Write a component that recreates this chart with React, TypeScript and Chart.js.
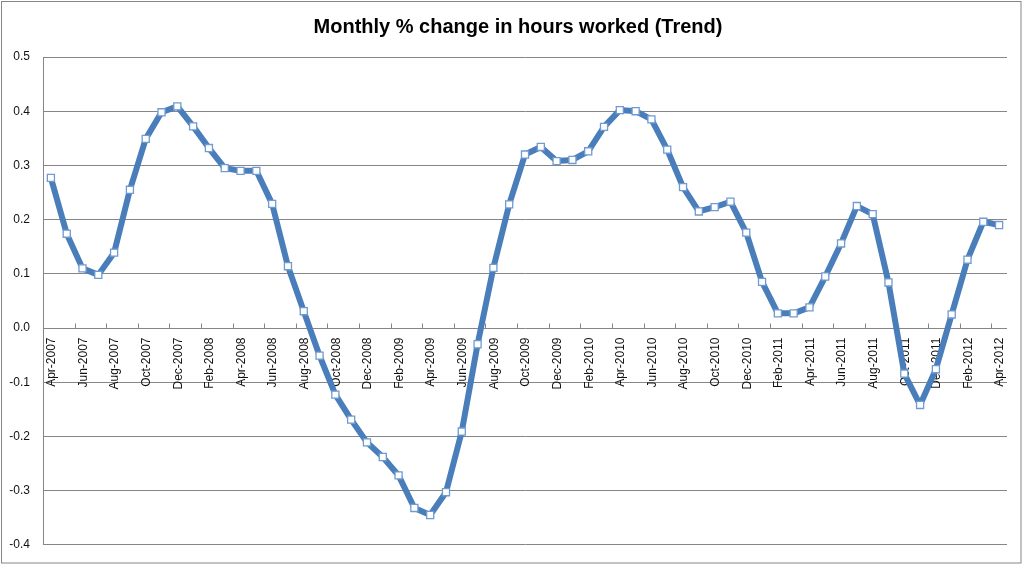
import React, { useEffect, useRef } from "react";
import { Chart, registerables } from "chart.js";

Chart.register(...registerables);

const TITLE = "Monthly % change in hours worked (Trend)";

const MONTHS = [
  "Apr-2007", "May-2007", "Jun-2007", "Jul-2007", "Aug-2007", "Sep-2007", "Oct-2007", "Nov-2007", "Dec-2007",
  "Jan-2008", "Feb-2008", "Mar-2008", "Apr-2008", "May-2008", "Jun-2008", "Jul-2008", "Aug-2008", "Sep-2008", "Oct-2008", "Nov-2008", "Dec-2008",
  "Jan-2009", "Feb-2009", "Mar-2009", "Apr-2009", "May-2009", "Jun-2009", "Jul-2009", "Aug-2009", "Sep-2009", "Oct-2009", "Nov-2009", "Dec-2009",
  "Jan-2010", "Feb-2010", "Mar-2010", "Apr-2010", "May-2010", "Jun-2010", "Jul-2010", "Aug-2010", "Sep-2010", "Oct-2010", "Nov-2010", "Dec-2010",
  "Jan-2011", "Feb-2011", "Mar-2011", "Apr-2011", "May-2011", "Jun-2011", "Jul-2011", "Aug-2011", "Sep-2011", "Oct-2011", "Nov-2011", "Dec-2011",
  "Jan-2012", "Feb-2012", "Mar-2012", "Apr-2012",
];

const HOURS_CHANGE = [
  0.277, 0.174, 0.110, 0.098, 0.139, 0.255, 0.349, 0.398, 0.409,
  0.372, 0.332, 0.295, 0.290, 0.290, 0.229, 0.114, 0.031, -0.051, -0.123, -0.169, -0.211,
  -0.238, -0.272, -0.332, -0.345, -0.303, -0.191, -0.030, 0.111, 0.228, 0.320, 0.334, 0.308,
  0.310, 0.326, 0.371, 0.402, 0.400, 0.385, 0.329, 0.260, 0.215, 0.223, 0.233, 0.176,
  0.085, 0.027, 0.027, 0.038, 0.095, 0.156, 0.225, 0.210, 0.084, -0.084, -0.142, -0.076,
  0.025, 0.126, 0.196, 0.190,
];

const Y_MIN = -0.4;
const Y_MAX = 0.5;
const Y_STEP = 0.1;
const LABEL_EVERY = 2;

const GRID = "#868686";
const LINE = "#4A7EBB";
const FONT = '"Liberation Sans", Arial, sans-serif';

const excelDecor = {
  id: "excelDecor",
  beforeDraw(chart: any) {
    const ctx = chart.ctx;
    ctx.save();
    ctx.fillStyle = "#ffffff";
    ctx.fillRect(0, 0, chart.width, chart.height);
    ctx.restore();
  },
  beforeDatasetsDraw(chart: any) {
    const ctx = chart.ctx;
    const xs = chart.scales.x;
    const ys = chart.scales.y;
    const y0 = Math.round(ys.getPixelForValue(0)) + 0.5;
    const half = (xs.getPixelForValue(1) - xs.getPixelForValue(0)) / 2;
    ctx.save();
    ctx.strokeStyle = GRID;
    ctx.lineWidth = 1;
    ctx.beginPath();
    for (let i = 0; i < MONTHS.length; i += LABEL_EVERY) {
      const px = Math.round(xs.getPixelForValue(i) - half) + 0.5;
      ctx.moveTo(px, y0 - 5);
      ctx.lineTo(px, y0);
    }
    ctx.stroke();
    ctx.fillStyle = "#111";
    ctx.font = `12px ${FONT}`;
    ctx.textAlign = "right";
    ctx.textBaseline = "middle";
    for (let i = 0; i < MONTHS.length; i += LABEL_EVERY) {
      ctx.save();
      ctx.translate(xs.getPixelForValue(i) + 1, y0 + 9);
      ctx.rotate(-Math.PI / 2);
      ctx.fillText(MONTHS[i], 0, 0);
      ctx.restore();
    }
    ctx.restore();
  },
  afterDraw(chart: any) {
    const ctx = chart.ctx;
    ctx.save();
    ctx.fillStyle = "#000";
    ctx.font = `bold 20px ${FONT}`;
    ctx.textAlign = "center";
    ctx.textBaseline = "middle";
    ctx.fillText(TITLE, 518, 27);
    ctx.strokeStyle = GRID;
    ctx.lineWidth = 1;
    ctx.strokeRect(1.5, 1.5, 1019.5, 561.5);
    ctx.restore();
  },
};

export default function App() {
  const ref = useRef<HTMLCanvasElement | null>(null);
  useEffect(() => {
    if (!ref.current) return;
    const chart = new Chart(ref.current, {
      type: "line",
      data: {
        labels: MONTHS,
        datasets: [
          {
            label: "Hours worked",
            data: HOURS_CHANGE,
            borderColor: LINE,
            borderWidth: 6,
            tension: 0,
            borderJoinStyle: "round",
            pointStyle: "rect",
            pointRadius: 5,
            pointBackgroundColor: "#ffffff",
            pointBorderColor: "#6F9BD2",
            pointBorderWidth: 1.3,
            fill: false,
          },
        ],
      },
      options: {
        responsive: false,
        animation: false,
        devicePixelRatio: 1,
        layout: { padding: { left: 0, top: 57, right: 17, bottom: 17 } },
        plugins: {
          legend: { display: false },
          title: { display: false },
          tooltip: { enabled: false },
        },
        scales: {
          x: {
            type: "category",
            display: false,
            offset: true,
          },
          y: {
            min: Y_MIN,
            max: Y_MAX,
            afterFit: (s: any) => {
              s.width = 43;
            },
            ticks: {
              stepSize: Y_STEP,
              padding: 13,
              color: "#111",
              font: { family: FONT, size: 12 },
              callback: (v: any) => Number(v).toFixed(1),
            },
            grid: { color: GRID, lineWidth: 1, drawTicks: false },
            border: { display: true, color: GRID, width: 1 },
          },
        },
      },
      plugins: [excelDecor],
    });
    return () => chart.destroy();
  }, []);
  return (
    <div style={{ position: "absolute", left: 0, top: 0, width: 1024, height: 565, background: "#fff" }}>
      <canvas ref={ref} width={1024} height={565} style={{ display: "block" }} />
    </div>
  );
}
